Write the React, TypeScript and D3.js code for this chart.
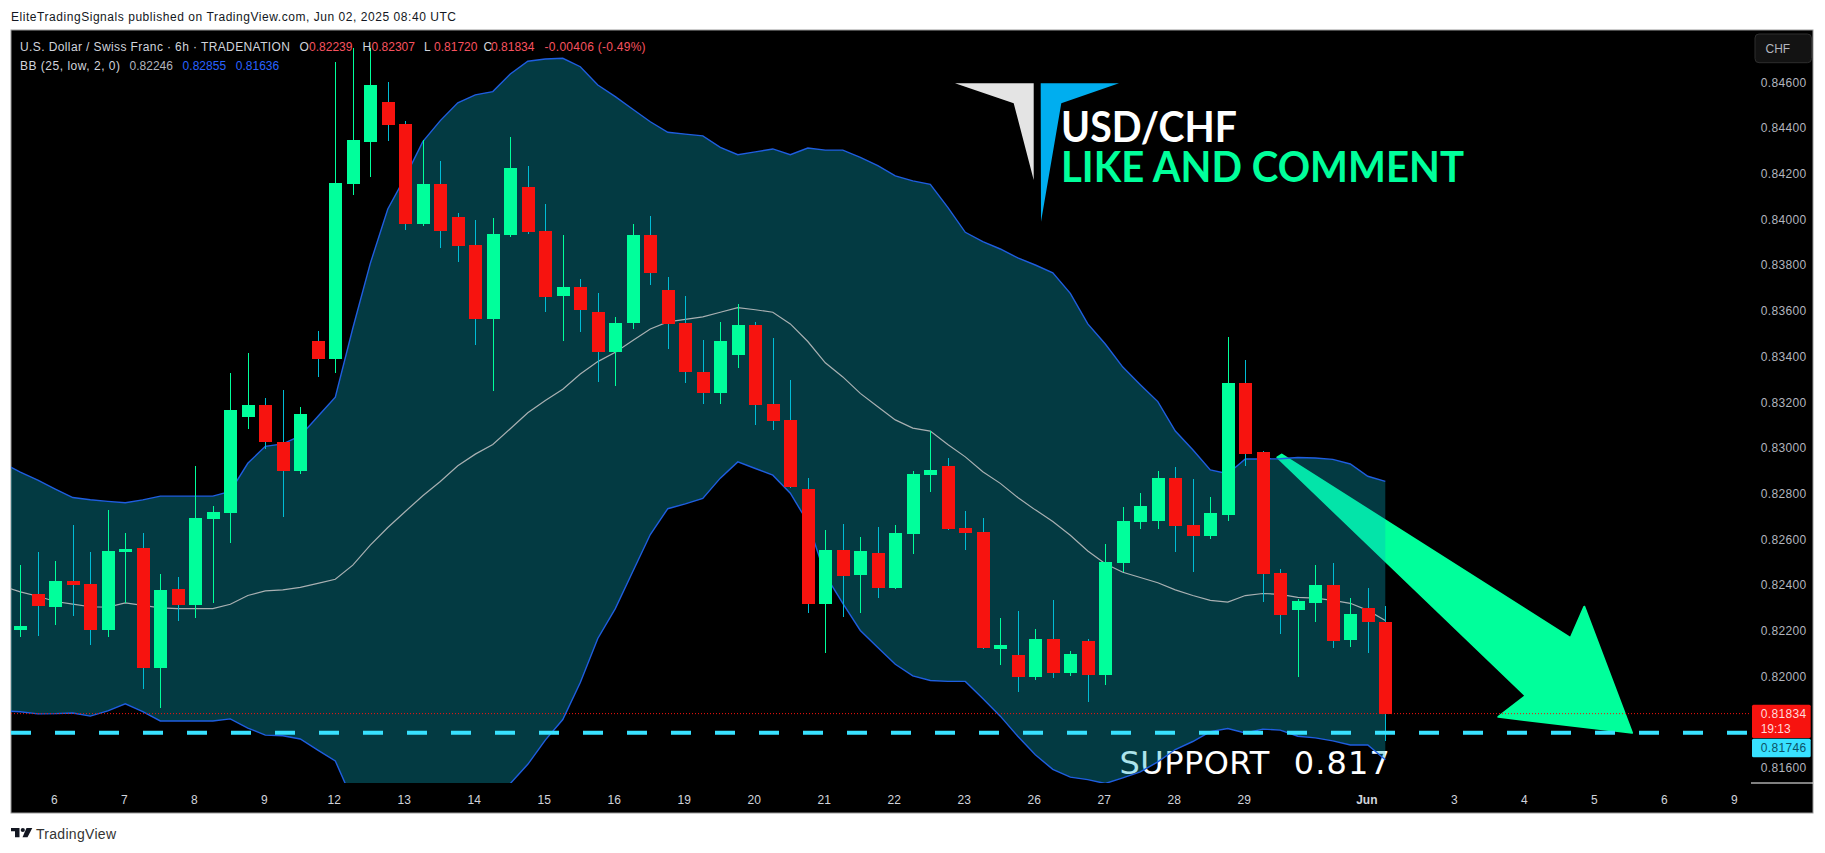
import React from "react";
import * as d3 from "d3";

// ---------- data ----------
const opens = [0.82204,0.82361,0.82306,0.82418,0.82406,0.82204,0.82545,0.82564,0.82039,0.82385,0.82313,0.8269,0.82716,0.83136,0.83189,0.83027,0.829,0.8347,0.83391,0.84156,0.8434,0.84515,0.84419,0.83983,0.84156,0.84012,0.83889,0.83567,0.83933,0.84143,0.83951,0.83666,0.83706,0.83596,0.83422,0.83548,0.83933,0.83692,0.83548,0.83334,0.83241,0.83408,0.83539,0.83193,0.83124,0.82821,0.82318,0.82554,0.82445,0.82542,0.82388,0.82625,0.82883,0.82922,0.82652,0.82633,0.82121,0.82094,0.81999,0.82165,0.82016,0.82156,0.82008,0.82497,0.82678,0.82681,0.82869,0.82664,0.82616,0.82707,0.83286,0.82983,0.82454,0.82292,0.82323,0.82401,0.82161,0.82301,0.82239];
const highs = [0.8249,0.82545,0.82506,0.82664,0.82545,0.8273,0.82628,0.82628,0.82449,0.82437,0.82922,0.82747,0.83329,0.83417,0.8322,0.83255,0.83181,0.83513,0.84691,0.84753,0.84753,0.84603,0.84432,0.84349,0.84257,0.84029,0.83999,0.84008,0.84362,0.84235,0.84069,0.83933,0.83741,0.83679,0.83575,0.83981,0.84016,0.83749,0.83666,0.83474,0.83553,0.8363,0.83553,0.83482,0.83298,0.82869,0.82642,0.82669,0.82611,0.82656,0.82664,0.829,0.83075,0.82957,0.82726,0.82695,0.82256,0.82287,0.82209,0.82335,0.82113,0.82165,0.82581,0.82743,0.82804,0.829,0.82917,0.82865,0.82786,0.83487,0.83386,0.82988,0.82471,0.8234,0.8249,0.82497,0.82344,0.82388,0.82307];
const lows = [0.82172,0.82179,0.82226,0.82267,0.82139,0.82173,0.82321,0.81946,0.81863,0.82244,0.82256,0.82324,0.82585,0.83085,0.82997,0.82699,0.82888,0.83312,0.83329,0.84108,0.84188,0.84346,0.83955,0.83973,0.83876,0.83815,0.83451,0.8325,0.83926,0.83938,0.83598,0.83471,0.8351,0.83291,0.83274,0.83522,0.83714,0.83436,0.83286,0.83193,0.83193,0.83351,0.83102,0.83079,0.82827,0.8228,0.82104,0.82261,0.8228,0.82344,0.82383,0.82537,0.82809,0.82642,0.82554,0.82121,0.82051,0.81934,0.81986,0.81994,0.82003,0.81889,0.81963,0.82456,0.82647,0.82647,0.82545,0.82459,0.82604,0.82681,0.82922,0.82327,0.82187,0.81999,0.82239,0.82125,0.8213,0.82104,0.8172];
const closes = [0.82222,0.8231,0.82418,0.82401,0.82204,0.8255,0.82559,0.82039,0.8238,0.82313,0.82695,0.82721,0.83167,0.83189,0.83027,0.829,0.8315,0.83391,0.84161,0.84349,0.8459,0.84415,0.83983,0.84156,0.83952,0.83886,0.83567,0.83938,0.84226,0.83948,0.83663,0.83706,0.83607,0.83422,0.83548,0.83933,0.83768,0.83545,0.83335,0.83243,0.8347,0.83539,0.83189,0.83119,0.82831,0.82318,0.82554,0.8244,0.8255,0.82388,0.82628,0.82888,0.82905,0.82647,0.82628,0.82125,0.82139,0.81999,0.82165,0.82016,0.82099,0.82008,0.82502,0.82681,0.82747,0.82869,0.82659,0.82616,0.82716,0.83286,0.82974,0.82449,0.8227,0.82332,0.82401,0.82156,0.82275,0.82239,0.81838];

// band series start one bar before the first candle (that bar is cut off by the chart's left edge)
const upper = [0.82936,0.82895,0.8286,0.82821,0.82784,0.82774,0.82767,0.82761,0.82774,0.8279,0.8279,0.8279,0.8279,0.82811,0.82934,0.83008,0.83019,0.83054,0.83139,0.83223,0.83525,0.83809,0.84047,0.84188,0.84342,0.84434,0.84512,0.84547,0.84561,0.84638,0.84694,0.84704,0.84707,0.8467,0.8459,0.84539,0.84484,0.84429,0.84383,0.84375,0.84367,0.84317,0.84285,0.84297,0.8431,0.84285,0.84314,0.84305,0.84305,0.84273,0.84237,0.84192,0.8417,0.84155,0.84054,0.83945,0.83904,0.83872,0.83833,0.83802,0.83768,0.83678,0.83544,0.83456,0.83355,0.83278,0.83204,0.83075,0.82993,0.82905,0.82888,0.82953,0.82953,0.82954,0.82959,0.82957,0.82951,0.82931,0.82877,0.82855];
const basis = [0.82395,0.82371,0.82352,0.82329,0.82317,0.82306,0.82304,0.82323,0.82312,0.82301,0.82298,0.82298,0.82298,0.82317,0.82355,0.82375,0.8238,0.82391,0.82408,0.82426,0.82488,0.82576,0.82653,0.82723,0.82792,0.82854,0.82923,0.82974,0.83016,0.83085,0.83155,0.83209,0.83258,0.83325,0.83379,0.8342,0.83471,0.83522,0.83553,0.83564,0.83575,0.83595,0.83615,0.83606,0.83595,0.83544,0.83467,0.83374,0.83312,0.8324,0.83181,0.83124,0.83088,0.83075,0.83016,0.82962,0.82897,0.82846,0.82784,0.8273,0.82679,0.82619,0.8255,0.82494,0.82457,0.82434,0.82411,0.8238,0.82355,0.82334,0.82326,0.82355,0.82364,0.8236,0.82347,0.82344,0.82334,0.82321,0.8229,0.82246];
const lower = [0.8185,0.81846,0.81837,0.81838,0.81841,0.81827,0.8185,0.81881,0.81847,0.81806,0.81806,0.81806,0.81806,0.81815,0.81775,0.81744,0.81741,0.81727,0.81678,0.81631,0.81457,0.81341,0.81259,0.81256,0.81242,0.81275,0.81335,0.81401,0.81471,0.81532,0.81616,0.81722,0.81812,0.81974,0.82167,0.82298,0.8246,0.82622,0.82735,0.82756,0.8278,0.82869,0.8294,0.82911,0.82882,0.82803,0.82676,0.82445,0.82321,0.82202,0.82128,0.82054,0.82003,0.81983,0.81979,0.81979,0.81904,0.81827,0.81739,0.81658,0.81594,0.8156,0.81549,0.81532,0.81557,0.81583,0.81627,0.81681,0.81716,0.81759,0.81773,0.81753,0.8177,0.81766,0.81739,0.81732,0.81719,0.81701,0.81701,0.81636];

const priceTicks = [0.816,0.82,0.822,0.824,0.826,0.828,0.83,0.832,0.834,0.836,0.838,0.84,0.842,0.844,0.846];
const dateLabels = ["6","7","8","9","12","13","14","15","16","19","20","21","22","23","26","27","28","29","Jun","3","4","5","6","9"];
const dateBars = [2,6,10,14,18,22,26,30,34,38,42,46,50,54,58,62,66,70,77,82,86,90,94,98];

const arrowBars = [72.08,88.59,89.37,92.1,84.46,86.02,71.83];
const arrowPrices = [0.82972,0.82169,0.82306,0.81754,0.81824,0.81916,0.8296];

const supportLine = 0.81754;
const lastLine = 0.81838;

const publishedBy = "EliteTradingSignals published on TradingView.com, Jun 02, 2025 08:40 UTC";
const symbolTitle = "U.S. Dollar / Swiss Franc · 6h · TRADENATION";
const ohlcKeys = ["O","H","L","C"];
const ohlcValues = ["0.82239","0.82307","0.81720","0.81834"];
const changeText = "-0.00406 (-0.49%)";
const bbTitle = "BB (25, low, 2, 0)";
const bbValues = ["0.82246","0.82855","0.81636"];

// ---------- layout / palette ----------
const W = 1825, H = 853;
const L = 11, R = 1751, T = 30, B = 783, OUTER_R = 1813, OUTER_B = 813;
const GREEN = "#00ff9b", RED = "#f7130f", WICK_RED = "#00bcd4";
const AXIS_FONT = "'Liberation Sans', Arial, sans-serif";

const x = d3.scaleLinear().domain([0, 78]).range([20.3, 1385.3]);
const y = d3.scaleLinear().domain([0.846, 0.816]).range([82.7, 768]);
const bandX = (_: number, i: number) => x(i - 1);

const upperLine = d3.line<number>().x(bandX).y((d) => y(d));
const band = d3.area<number>().x(bandX).y0((_, i) => y(lower[i])).y1((d) => y(d));
const arrowPath = d3.line<number>().x((b) => x(b)).y((_, i) => y(arrowPrices[i]));

const Lbl = (p: any) => <text fontFamily={AXIS_FONT} {...p} />;

export default function App() {
  const cw = 13;
  return (
    <svg width={W} height={H} viewBox={`0 0 ${W} ${H}`} style={{ position: "fixed", left: 0, top: 0, display: "block", background: "#fff" }}>
      <defs>
        <clipPath id="plot"><rect x={L} y={T} width={R - L} height={B - T} /></clipPath>
      </defs>

      <Lbl x={11} y={21} fontSize={12} fill="#131722" textLength={445} lengthAdjust="spacing">{publishedBy}</Lbl>

      <rect x={L} y={T} width={OUTER_R - L} height={OUTER_B - T} fill="#000" stroke="#9a9a9a" strokeWidth={1} />

      <g clipPath="url(#plot)">
        {/* drawings, under the translucent band */}
        <path d={arrowPath(arrowBars)! + "Z"} fill={GREEN} stroke={GREEN} strokeWidth={2} strokeLinejoin="round" />
        <text y={773.5} fontFamily="'DejaVu Sans', sans-serif" fontSize={32} fill="#fff">
          <tspan x={1119.6} textLength={149.6} lengthAdjust="spacing">SUPPORT</tspan>{" "}
          <tspan x={1293.8} textLength={96} lengthAdjust="spacing">0.817</tspan>
        </text>

        <path d={band(upper)!} fill="rgba(9,174,198,0.333)" />
        <path d={upperLine(upper)!} fill="none" stroke="#1f5ee0" strokeWidth={1.4} />
        <path d={upperLine(lower)!} fill="none" stroke="#1f5ee0" strokeWidth={1.4} />
        <path d={upperLine(basis)!} fill="none" stroke="#a9b0b2" strokeWidth={1.2} />

        {opens.map((o, i) => {
          const c = closes[i];
          const up = c >= o;
          const cx = Math.round(x(i));
          const top = y(Math.max(o, c));
          const bot = y(Math.min(o, c));
          return (
            <g key={i} shapeRendering="crispEdges">
              <rect x={cx - 0.5} y={y(highs[i])} width={1} height={y(lows[i]) - y(highs[i])} fill={up ? GREEN : WICK_RED} />
              <rect x={cx - cw / 2} y={top} width={cw} height={Math.max(bot - top, 2)} fill={up ? GREEN : RED} />
            </g>
          );
        })}

        <line x1={L} x2={R} y1={y(lastLine)} y2={y(lastLine)} stroke="#f7130f" strokeWidth={1} strokeDasharray="1 2" />
        <line x1={L} x2={R} y1={y(supportLine)} y2={y(supportLine)} stroke="#38e1ff" strokeWidth={4} strokeDasharray="20 24" />
      </g>

      {/* logo and headline */}
      <polygon points="955,83.3 1033.7,83.3 1033.7,180 1013.7,103.3" fill="#e4e4e4" />
      <polygon points="1040.7,83.3 1119,83.3 1061.3,103.3 1041,221.7" fill="#00aeef" />
      <text x={1061} y={141.7} fontFamily="Lato, sans-serif" fontWeight={700} fontSize={42} fill="#fff" textLength={176} lengthAdjust="spacingAndGlyphs">USD/CHF</text>
      <text x={1061} y={181.7} fontFamily="Lato, sans-serif" fontWeight={700} fontSize={42} fill={GREEN} textLength={403} lengthAdjust="spacingAndGlyphs">LIKE AND COMMENT</text>

      {/* legend */}
      <Lbl x={20} y={51} fontSize={12} fill="#d1d4dc" textLength={270} lengthAdjust="spacing">{symbolTitle}</Lbl>
      {ohlcKeys.map((k, i) => {
        const kx = [299.5, 362.5, 424, 483.5][i];
        const vx = [309, 371.5, 434, 491][i];
        return (
          <g key={k}>
            <Lbl x={kx} y={51} fontSize={12} fill="#d1d4dc">{k}</Lbl>
            <Lbl x={vx} y={51} fontSize={12} fill="#f7525f" textLength={43.5} lengthAdjust="spacing">{ohlcValues[i]}</Lbl>
          </g>
        );
      })}
      <Lbl x={544.6} y={51} fontSize={12} fill="#f7525f" textLength={101} lengthAdjust="spacing">{changeText}</Lbl>
      <Lbl x={20} y={70} fontSize={12} fill="#d1d4dc" textLength={100} lengthAdjust="spacing">{bbTitle}</Lbl>
      {bbValues.map((v, i) => (
        <Lbl key={v} x={[129.5, 182.6, 235.7][i]} y={70} fontSize={12} fill={i === 0 ? "#b2b5be" : "#2962ff"} textLength={43.5} lengthAdjust="spacing">{v}</Lbl>
      ))}

      {/* price axis */}
      {priceTicks.map((p) => (
        <Lbl key={p} x={1760.7} y={y(p) + 4} fontSize={12} fill="#b2b5be" textLength={45.5} lengthAdjust="spacing">{p.toFixed(5)}</Lbl>
      ))}
      <rect x={1755} y={34} width={56.5} height={28.7} rx={4} fill="#131313" stroke="#2e2e2e" />
      <Lbl x={1765.5} y={52.7} fontSize={12} fill="#b2b5be">CHF</Lbl>

      <rect x={1752} y={704.7} width={58.7} height={33.3} rx={1.5} fill={RED} />
      <Lbl x={1760.7} y={718} fontSize={12} fill="#ffd9d9" textLength={45.5} lengthAdjust="spacing">0.81834</Lbl>
      <Lbl x={1760.7} y={733} fontSize={12} fill="#ffd9d9">19:13</Lbl>
      <rect x={1752} y={738.7} width={58.7} height={18.6} rx={1.5} fill="#38e1ff" />
      <Lbl x={1760.7} y={752} fontSize={12} fill="#0b5266" textLength={45.5} lengthAdjust="spacing">0.81746</Lbl>

      {/* time axis */}
      {dateLabels.map((d, i) => (
        <Lbl key={i} x={x(dateBars[i]) - 1} y={803.5} fontSize={12} textAnchor="middle" fontWeight={d === "Jun" ? 700 : 400} fill="#d1d4dc">{d}</Lbl>
      ))}
      <line x1={R} x2={OUTER_R} y1={B} y2={B} stroke="#fff" strokeWidth={1} />

      {/* footer */}
      <path d="M11 828H19.5V837.3H15V831.3H11Z" fill="#131722" />
      <circle cx={22.8} cy={830} r={2.1} fill="#131722" />
      <path d="M26.5 828H32.3L27.5 837.3H22.5Z" fill="#131722" />
      <Lbl x={36} y={839} fontSize={14} fill="#333" textLength={80} lengthAdjust="spacing">TradingView</Lbl>
    </svg>
  );
}
